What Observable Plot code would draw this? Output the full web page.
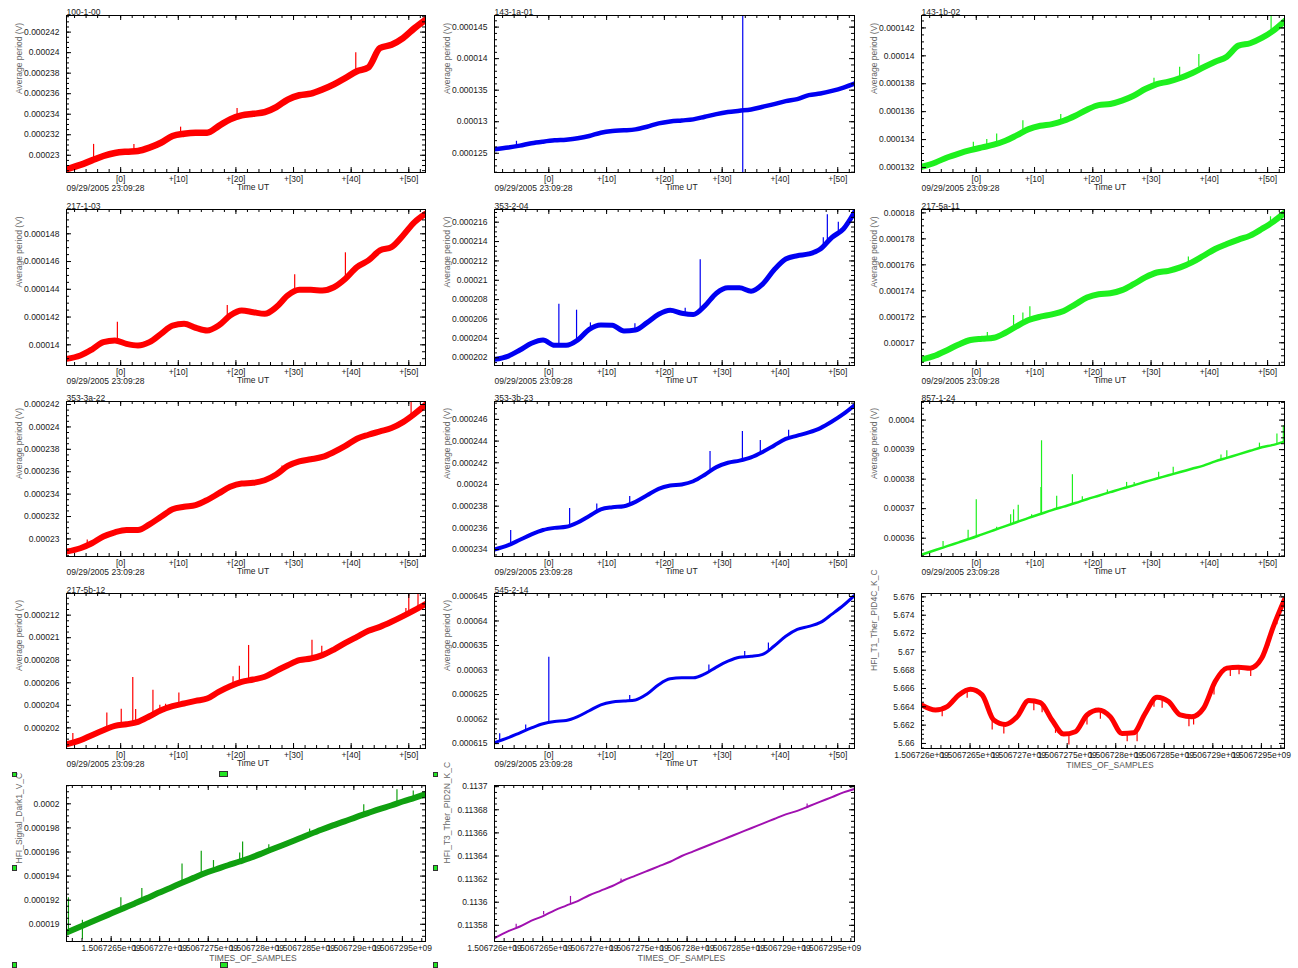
<!DOCTYPE html>
<html><head><meta charset="utf-8">
<script src="https://cdn.jsdelivr.net/npm/d3@7"></script>
<script src="https://cdn.jsdelivr.net/npm/@observablehq/plot@0.6"></script>
<style>
body{margin:0;background:#fff;}
#root{position:relative;width:1298px;height:968px;overflow:hidden;background:#fff;}
.panel{position:absolute;}
.handle{position:absolute;background:#22e622;border:1px solid #333;box-sizing:border-box;}
</style></head><body><div id="root"></div>
<script>
// ---- data ----
const T0 = 1506726564;            // TIMES_OF_SAMPLES at 09/29/2005 23:09:28
const dateLabel = "09/29/2005 23:09:28";
const minutes = [-9.4,-7,-5,-3,-1,1,3,5,7,9,11,13,15,17,19,21,23,25,27,29,31,33,35,37,39,41,43,45,47,49,51,52.9];

// values in micro-volts unless noted
const p100_1_00 = [228.63,229.06,229.5,229.93,230.22,230.35,230.42,230.74,231.22,231.87,232.1,232.2,232.2,232.84,233.5,233.88,234.04,234.2,234.69,235.43,235.85,236.0,236.4,236.9,237.53,238.18,238.57,240.45,240.77,241.42,242.39,243.2];
const s100_1_00 = [[-4.7,229.7,231.06],[40.8,238.1,240.0],[20.2,233.9,234.56],[10.4,232.0,232.74],[2.3,230.4,231.06]];

const p143_1a_01 = [125.63,125.9,126.21,126.58,126.84,127.05,127.16,127.37,127.74,128.26,128.53,128.63,128.79,129.21,129.74,130.05,130.21,130.37,130.79,131.21,131.53,131.74,131.95,132.37,132.79,133.26,133.58,134.21,134.47,134.89,135.42,136.05];
const s143_1a_01 = [[33.56,121.0,148.0],[-5.6,126.1,126.9]];

const p143_1b_02 = [132.05,132.36,132.72,133.0,133.24,133.44,133.63,133.91,134.32,134.75,134.99,135.11,135.35,135.71,136.14,136.47,136.55,136.79,137.14,137.62,137.98,138.15,138.41,138.75,139.18,139.58,139.94,140.73,140.9,141.28,141.81,142.48];
const s143_1b_02 = [[38.2,139.2,140.09],[34.9,138.4,139.18],[8.0,134.6,135.35],[3.5,133.7,134.39],[50.6,141.6,143.0],[-0.5,133.3,133.8],[1.8,133.5,134.0],[14.5,135.3,135.8],[30.5,137.9,138.4]];

const p217_1_03 = [138.99,139.23,139.66,140.19,140.31,140.07,139.95,140.19,140.79,141.39,141.51,141.23,141.03,141.39,142.11,142.47,142.35,142.23,142.71,143.56,143.96,143.96,143.92,144.15,144.76,145.6,146.08,146.8,147.04,147.88,148.84,149.44];
const s217_1_03 = [[-0.57,140.3,141.63],[18.5,142.0,142.83],[30.2,143.8,145.05],[39.0,144.9,146.63]];

const p353_2_04 = [201.83,202.17,202.8,203.49,203.83,203.28,203.28,203.83,204.94,205.39,205.35,204.77,204.87,205.63,206.49,206.91,206.6,206.46,207.36,208.67,209.23,209.23,208.88,209.61,211.09,212.2,212.54,212.72,213.23,214.44,215.31,217.04];
const s353_2_04 = [[1.74,203.3,207.53],[4.8,203.8,206.91],[26.2,207.0,212.13],[48.2,214.0,216.76],[50.1,215.0,216.0],[23.6,206.6,207.1],[14.9,204.9,205.5],[7.2,205.0,205.6],[47.5,213.6,214.4]];

const p217_5a_11 = [168.71,169.02,169.43,169.87,170.21,170.31,170.39,170.77,171.29,171.75,172.01,172.19,172.45,172.96,173.48,173.74,173.81,174.05,174.51,175.03,175.41,175.54,175.8,176.19,176.7,177.22,177.6,177.94,178.25,178.76,179.33,180.0];
const s217_5a_11 = [[9.2,171.9,172.78],[6.4,171.2,172.1],[8.0,171.6,172.3],[36.4,176.1,176.6],[1.9,170.35,170.8],[50.5,179.2,179.7]];

const p353_3a_22 = [228.87,229.17,229.61,230.21,230.59,230.8,230.8,231.3,231.98,232.64,232.87,233.02,233.47,234.06,234.65,234.95,235.01,235.24,235.75,236.52,236.93,237.11,237.32,237.76,238.3,238.95,239.3,239.6,239.9,240.43,241.17,241.97];
const s353_3a_22 = [[50.4,240.8,242.3],[28.0,235.9,236.5],[-5.8,229.4,229.9]];

const p353_3b_23 = [234.0,234.4,234.9,235.4,235.8,236.0,236.1,236.5,237.1,237.7,237.9,238.0,238.4,239.0,239.6,239.9,240.0,240.3,240.9,241.6,242.0,242.2,242.5,243.0,243.6,244.2,244.5,244.8,245.2,245.8,246.5,247.3];
const s353_3b_23 = [[27.9,241.1,243.04],[33.5,242.2,244.89],[36.6,242.9,244.06],[3.6,236.2,237.79],[-6.6,234.5,235.76],[8.3,237.5,238.2],[41.5,244.3,245.0],[14,238.2,238.9]];

const p857_1_24 = [354.4,356.0,357.3,358.6,359.9,361.3,362.7,364.1,365.5,366.9,368.2,369.5,370.7,371.9,373.2,374.4,375.6,376.8,377.9,379.1,380.2,381.3,382.4,383.5,384.6,386.0,387.2,388.4,389.6,390.8,391.6,392.7];
const s857_1_24 = [[0,360.6,373.0],[-1.4,359.6,362.7],[-5.7,357.0,358.9],[5.9,364.8,367.9],[6.4,365.1,369.6],[7.2,365.6,371.2],[11.2,368.3,393.0],[11.1,368.2,377.2],[13.8,370.0,374.2],[16.5,371.6,381.5],[18.2,372.7,374.0],[25.8,377.3,378.9],[27.1,378.0,378.9],[31.3,380.4,382.3],[33.8,381.7,384.0],[42,386.6,388.2],[43,387.2,389.6],[48.6,390.5,392.2],[51.6,391.9,395.3],[52.7,392.6,398.1],[22.5,375.3,376.3],[9.5,367.2,367.9],[3.5,363.0,363.7]];

const p217_5b_12 = [200.55,200.9,201.35,201.79,202.18,202.32,202.53,203.03,203.57,203.92,204.16,204.4,204.6,205.2,205.7,206.08,206.29,206.53,207.06,207.56,208.0,208.15,208.45,208.95,209.54,210.08,210.61,210.96,211.41,211.91,212.44,212.98];
const s217_5b_12 = [[-2.4,201.9,203.33],[0.1,202.25,203.66],[2.1,202.4,206.47],[2.6,202.5,203.63],[5.6,203.2,205.34],[10.1,204.0,205.1],[19.5,205.8,206.53],[20.6,206.0,207.47],[22.2,206.2,209.31],[33.2,208.15,209.78],[34.9,208.4,209.25],[49.5,212.0,212.59],[50.0,212.1,213.9],[51.6,212.6,213.9],[-8.3,200.7,201.5],[6.8,203.5,204.0],[7.8,203.7,204.1]];

const p545_2_14 = [615.2,616.2,617.2,618.2,619.05,619.5,619.7,620.5,621.7,622.9,623.5,623.7,623.9,625.1,627.0,628.2,628.4,628.4,629.2,630.6,631.8,632.6,632.8,633.2,634.9,636.9,638.3,638.9,639.7,641.4,643.2,645.2];
const s545_2_14 = [[0,619.3,632.6],[-8.5,615.6,617.0],[14,623.8,624.8],[27.7,629.6,631.0],[33.9,632.7,633.8],[38,634.0,635.5],[-4,617.7,618.8]];

// kelvin
const pT1_PID4C = [5.6642,5.66365,5.66402,5.6653,5.66592,5.6653,5.66256,5.66208,5.66292,5.66468,5.66446,5.66256,5.66102,5.66128,5.66311,5.66365,5.66292,5.6611,5.66117,5.66329,5.66504,5.66457,5.66311,5.66292,5.66384,5.66676,5.66822,5.66833,5.66822,5.66932,5.67279,5.67571];
const sT1_PID4C = [[-5.85,5.66365,5.66292],[-1.56,5.66584,5.66493],[2.73,5.66274,5.66146],[4.73,5.66212,5.66102],[9.88,5.66468,5.66358],[11.3,5.66446,5.66336],[13.6,5.66219,5.6611],[15.9,5.66102,5.65982],[19.0,5.66311,5.66201],[21.3,5.66365,5.66263],[25.9,5.6611,5.66018],[27.6,5.66128,5.66018],[30.5,5.66504,5.66395],[31.9,5.66475,5.66384],[36.5,5.66292,5.66183],[37.3,5.66292,5.66201],[40.8,5.66639,5.6653],[43.6,5.66833,5.6673],[45.1,5.66833,5.66749],[47.1,5.66822,5.6673],[50.2,5.67169,5.6706],[51.6,5.67388,5.67297]];

const pDark1 = [189.17,189.67,190.08,190.5,190.91,191.32,191.73,192.15,192.59,193.0,193.42,193.83,194.24,194.57,194.9,195.21,195.54,195.92,196.31,196.69,197.08,197.47,197.85,198.21,198.54,198.9,199.23,199.56,199.86,200.19,200.5,200.8];
const sDark1 = [[11.1,193.4,195.01],[14.4,194.1,196.06],[16.5,194.5,195.29],[21.5,195.3,196.83],[21.0,195.2,195.92],[0.6,191.3,192.2],[4.2,192.0,192.97],[-6.0,189.9,190.33],[-6.0,189.9,188.76],[42.3,199.1,199.92],[48.0,199.9,201.16],[50.8,200.4,201.07],[-8.4,189.5,192.2],[26,196.1,196.6],[33,197.5,197.9]];

// kelvin
const pT3_PID2N = [0.113569,0.113575,0.113579,0.113584,0.113588,0.113593,0.113597,0.113601,0.113606,0.11361,0.113614,0.113619,0.113623,0.113627,0.113631,0.113635,0.11364,0.113644,0.113648,0.113652,0.113656,0.11366,0.113664,0.113668,0.113672,0.113676,0.113679,0.113683,0.113687,0.113691,0.113695,0.113698];
const sT3_PID2N = [[-5.65,0.113578,0.113581],[3.75,0.113598,0.113605],[-0.9,0.113589,0.113592],[44.7,0.113682,0.113685],[12.5,0.113617,0.11362]];

const titles = ["100-1-00","143-1a-01","143-1b-02","217-1-03","353-2-04","217-5a-11","353-3a-22","353-3b-23","857-1-24","217-5b-12","545-2-14"];
const yLabels = ["Average period (V)","HFI_T1_Ther_PID4C_K_C","HFI_Signal_Dark1_V_C","HFI_T3_Ther_PID2N_K_C"];
const xLabels = ["Time UT","TIMES_OF_SAMPLES"];

// ---- layout / style ----
const cols = [{x:66,w:359},{x:494,w:360},{x:921,w:363}];
const rows = [{y:15,h:157},{y:209,h:156},{y:401,h:155},{y:593,h:155},{y:785,h:156}];
const RED="#ff0000", BLUE="#0000f2", GREEN="#1ef01e", DKGREEN="#10a010", PURPLE="#a010b0";
const U = 1e-6;
const utDomain = [-9.4, 52.9];

const panels = [
  {c:0,r:0,title:titles[0],yl:0,kind:"ut",color:RED,sw:6.5,v:p100_1_00,s:s100_1_00,u:U,yd:[228.32,243.62]},
  {c:1,r:0,title:titles[1],yl:0,kind:"ut",color:BLUE,sw:4.5,v:p143_1a_01,s:s143_1a_01,u:U,yd:[121.95,146.84]},
  {c:2,r:0,title:titles[2],yl:0,kind:"ut",color:GREEN,sw:6,v:p143_1b_02,s:s143_1b_02,u:U,yd:[131.64,142.89]},
  {c:0,r:1,title:titles[3],yl:0,kind:"ut",color:RED,sw:6,v:p217_1_03,s:s217_1_03,u:U,yd:[138.51,149.75]},
  {c:1,r:1,title:titles[4],yl:0,kind:"ut",color:BLUE,sw:5,v:p353_2_04,s:s353_2_04,u:U,yd:[201.2,217.31]},
  {c:2,r:1,title:titles[5],yl:0,kind:"ut",color:GREEN,sw:6,v:p217_5a_11,s:s217_5a_11,u:U,yd:[168.25,180.26]},
  {c:0,r:2,title:titles[6],yl:0,kind:"ut",color:RED,sw:6,v:p353_3a_22,s:s353_3a_22,u:U,yd:[228.43,242.27]},
  {c:1,r:2,title:titles[7],yl:0,kind:"ut",color:BLUE,sw:4,v:p353_3b_23,s:s353_3b_23,u:U,yd:[233.36,247.65]},
  {c:2,r:2,title:titles[8],yl:0,kind:"ut",color:GREEN,sw:2.5,v:p857_1_24,s:s857_1_24,u:U,yd:[353.8,406.3]},
  {c:0,r:3,title:titles[9],yl:0,kind:"ut",color:RED,sw:6,v:p217_5b_12,s:s217_5b_12,u:U,yd:[200.17,213.92]},
  {c:1,r:3,title:titles[10],yl:0,kind:"ut",color:BLUE,sw:3,v:p545_2_14,s:s545_2_14,u:U,yd:[614.0,645.6]},
  {c:2,r:3,title:null,yl:1,kind:"sec",color:RED,sw:5,v:pT1_PID4C,s:sT1_PID4C,u:1,yd:[5.65945,5.67637],xd:[1506726000,1506729738]},
  {c:0,r:4,title:null,yl:2,kind:"sec",color:DKGREEN,sw:6,v:pDark1,s:sDark1,u:U,yd:[188.57,201.52],xd:[1506726040,1506729738]},
  {c:1,r:4,title:null,yl:3,kind:"sec",color:PURPLE,sw:2,v:pT3_PID2N,s:sT3_PID2N,u:1,yd:[0.113566,0.113701],xd:[1506726000,1506729738]}
];

const handles = [[12,772,5,5],[219,771,9,6],[433,772,5,5],[12,865,5,6],[433,865,5,6],[12,962,5,6],[220,962,8,6],[433,962,5,6]];

const fmtY = d3.format("~g");
const fmtUT = t => t === 0 ? "[0]" : `+[${t}]`;
const fmtSec = v => (v / 1e9).toFixed(7).replace(/0+$/, "").replace(/\.$/, "") + "e+09";

function minorRange(lo, hi, step) {
  return d3.range(Math.ceil(lo / step - 1e-6), Math.floor(hi / step + 1e-6) + 1).map(k => k * step);
}

const root = document.getElementById("root");
const ml = 66, mt = 16, mr = 8, mb = 30;

for (const p of panels) {
  const c = cols[p.c], r = rows[p.r];
  const W = c.w + ml + mr, H = r.h + mt + mb;
  const iw = c.w, ih = r.h;
  const toX = p.kind === "ut" ? (t => t) : (t => T0 + 60 * t);
  const xd = p.kind === "ut" ? utDomain : p.xd;
  const yd = [p.yd[0] * p.u, p.yd[1] * p.u];
  const line = minutes.map((t, i) => ({x: toX(t), y: p.v[i] * p.u}));
  const spikes = p.s.map(([t, a, b]) => ({x: toX(t), y1: a * p.u, y2: b * p.u}));

  const yStep = d3.tickStep(yd[0], yd[1], 6);
  const lead = Math.round(yStep / 10 ** Math.floor(Math.log10(yStep)));
  const yMajor = d3.ticks(yd[0], yd[1], 6);
  const yMinor = minorRange(yd[0], yd[1], yStep / (lead === 2 ? 4 : 5));
  let xMajor, xMinor;
  if (p.kind === "ut") { xMajor = d3.ticks(xd[0], xd[1], 6); xMinor = minorRange(xd[0], xd[1], 2); }
  else { xMajor = d3.ticks(xd[0], xd[1], 7); xMinor = minorRange(xd[0], xd[1], 100); }

  const tickMarks = (vals, len) => [
    Plot.tickX(vals, {x: d => d, insetTop: ih - len, stroke: "#000"}),
    Plot.tickX(vals, {x: d => d, insetBottom: ih - len, stroke: "#000"})
  ];
  const tickMarksY = (vals, len) => [
    Plot.tickY(vals, {y: d => d, insetRight: iw - len, stroke: "#000"}),
    Plot.tickY(vals, {y: d => d, insetLeft: iw - len, stroke: "#000"})
  ];

  const marks = [
    Plot.ruleX(spikes, {x: "x", y1: "y1", y2: "y2", stroke: p.color, strokeWidth: 1.2, clip: true}),
    Plot.line(line, {x: "x", y: "y", stroke: p.color, strokeWidth: p.sw, curve: "monotone-x", strokeLinejoin: "round", clip: true}),
    ...tickMarks(xMinor, 3), ...tickMarks(xMajor, 5),
    ...tickMarksY(yMinor, 3), ...tickMarksY(yMajor, 5),
    Plot.frame({stroke: "#000", strokeWidth: 1}),
    Plot.axisY({anchor: "left", ticks: yMajor, tickSize: 0, tickPadding: 7, tickFormat: fmtY, label: null}),
    Plot.axisX({anchor: "bottom", ticks: xMajor, tickSize: 0, tickPadding: 3, tickFormat: p.kind === "ut" ? fmtUT : fmtSec, label: null}),
    Plot.text([yLabels[p.yl]], {text: d => d, frameAnchor: "left", dx: -47, rotate: -90, fill: "#666"}),
    Plot.text([xLabels[p.kind === "ut" ? 0 : 1]], {text: d => d, frameAnchor: "bottom", dx: 7, dy: p.kind === "ut" ? 17 : 19, fill: p.kind === "ut" ? "#222" : "#555"})
  ];
  if (p.title) marks.push(Plot.text([p.title], {text: d => d, frameAnchor: "top-left", textAnchor: "start", dy: -7, fill: "#222"}));
  if (p.kind === "ut") marks.push(Plot.text([dateLabel], {text: d => d, frameAnchor: "bottom-left", textAnchor: "start", dy: 18, fill: "#222"}));

  const svg = Plot.plot({
    width: W, height: H,
    marginLeft: ml, marginTop: mt, marginRight: mr, marginBottom: mb,
    x: {domain: xd, axis: null},
    y: {domain: yd, axis: null},
    style: {background: "transparent", fontFamily: "'Liberation Sans', Arial, sans-serif", fontSize: "8.5px", color: "#1a1a1a", overflow: "visible"},
    marks
  });
  const div = document.createElement("div");
  div.className = "panel";
  div.style.left = (c.x - ml) + "px";
  div.style.top = (r.y - mt) + "px";
  div.appendChild(svg);
  root.appendChild(div);
}

for (const [x, y, w, h] of handles) {
  const d = document.createElement("div");
  d.className = "handle";
  d.style.left = x + "px"; d.style.top = y + "px"; d.style.width = w + "px"; d.style.height = h + "px";
  root.appendChild(d);
}
</script>
</body></html>
